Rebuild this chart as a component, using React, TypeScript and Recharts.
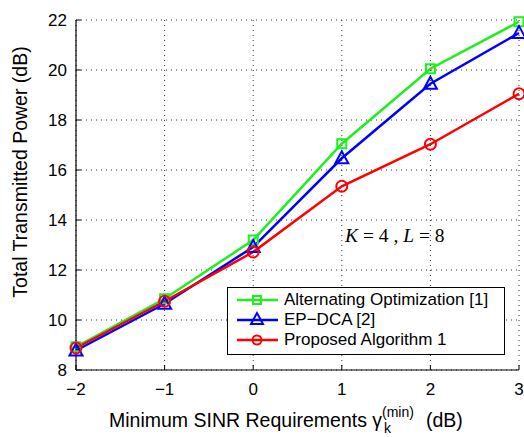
import React from "react"
import { LineChart, Line, XAxis, YAxis, CartesianGrid } from "recharts"

const sinr = [-2, -1, 0, 1, 2, 3]
const altOpt = [8.93, 10.85, 13.2, 17.05, 20.05, 21.93]
const epDca = [8.78, 10.65, 12.92, 16.47, 19.45, 21.48]
const proposed = [8.88, 10.75, 12.72, 15.35, 17.03, 19.05]
const xTicks = [-2, -1, 0, 1, 2, 3]
const yTicks = [8, 10, 12, 14, 16, 18, 20, 22]

const data = sinr.map((x, i) => ({ x, ao: altOpt[i], ep: epDca[i], pa: proposed[i] }))

const GREEN = "#1fee1f"
const BLUE = "#0000ff"
const RED = "#ff0000"
const SANS = "'Liberation Sans', Arial, sans-serif"
const SERIF = "'Liberation Serif', 'Times New Roman', serif"

const fmt = (v: number) => (v < 0 ? `\u2212${Math.abs(v)}` : `${v}`)

function BottomTick(props: any) {
  const { x, y, payload } = props
  return (
    <g>
      <line x1={x} y1={y} x2={x} y2={y - 5} stroke="#000" />
      <text x={x} y={y + 25} textAnchor="middle" fontSize={17} fontFamily={SANS} fill="#000">
        {fmt(payload.value)}
      </text>
    </g>
  )
}

function LeftTick(props: any) {
  const { x, y, payload } = props
  return (
    <g>
      <line x1={x} y1={y} x2={x + 5} y2={y} stroke="#000" />
      <text x={x - 9} y={y + 6} textAnchor="end" fontSize={17} fontFamily={SANS} fill="#000">
        {fmt(payload.value)}
      </text>
    </g>
  )
}

function TopTick(props: any) {
  const { x, y } = props
  return <line x1={x} y1={y} x2={x} y2={y + 5} stroke="#000" />
}

function RightTick(props: any) {
  const { x, y } = props
  return <line x1={x} y1={y} x2={x - 5} y2={y} stroke="#000" />
}

function SquareDot(props: any) {
  const { cx, cy } = props
  return <rect x={cx - 4.5} y={cy - 4.5} width={9} height={9} fill="none" stroke={GREEN} strokeWidth={2} />
}

function TriDot(props: any) {
  const { cx, cy } = props
  const p = `${cx},${cy - 7} ${cx - 6.5},${cy + 5} ${cx + 6.5},${cy + 5}`
  return <polygon points={p} fill="none" stroke={BLUE} strokeWidth={2} />
}

function CircleDot(props: any) {
  const { cx, cy } = props
  return <circle cx={cx} cy={cy} r={5.5} fill="none" stroke={RED} strokeWidth={2} />
}

function LegendRow({ color, marker, label }: { color: string; marker: string; label: string }) {
  return (
    <div style={{ display: "flex", alignItems: "center", height: 20 }}>
      <svg width={46} height={20} style={{ marginRight: 4 }}>
        <line x1={3} y1={10} x2={44} y2={10} stroke={color} strokeWidth={2.5} />
        {marker === "s" && <rect x={19} y={6} width={8} height={8} fill="none" stroke={color} strokeWidth={2} />}
        {marker === "t" && <polygon points="23,3 17,14 29,14" fill="none" stroke={color} strokeWidth={2} />}
        {marker === "o" && <circle cx={23} cy={10} r={4.5} fill="none" stroke={color} strokeWidth={2} />}
      </svg>
      <span>{label}</span>
    </div>
  )
}

export default function App() {
  return (
    <div style={{ position: "absolute", left: 0, top: 0, width: 524, height: 437, background: "#fff" }}>
      <LineChart width={524} height={437} data={data} margin={{ top: 20, right: 5, left: 0, bottom: 0 }}>
        <CartesianGrid stroke="#333" strokeDasharray="1 4" />
        <XAxis
          dataKey="x"
          type="number"
          domain={[-2, 3]}
          ticks={xTicks}
          height={67}
          tickSize={0}
          tickMargin={0}
          tick={<BottomTick />}
          axisLine={{ stroke: "#000", strokeWidth: 1.2 }}
        />
        <XAxis
          xAxisId="top"
          orientation="top"
          dataKey="x"
          type="number"
          domain={[-2, 3]}
          ticks={xTicks}
          height={0}
          tickSize={0}
          tickMargin={0}
          tick={<TopTick />}
          axisLine={{ stroke: "#000", strokeWidth: 1.2 }}
        />
        <YAxis
          type="number"
          domain={[8, 22]}
          ticks={yTicks}
          width={76}
          tickSize={0}
          tickMargin={0}
          tick={<LeftTick />}
          axisLine={{ stroke: "#000", strokeWidth: 1.2 }}
        />
        <YAxis
          yAxisId="right"
          orientation="right"
          type="number"
          domain={[8, 22]}
          ticks={yTicks}
          width={0}
          tickSize={0}
          tickMargin={0}
          tick={<RightTick />}
          axisLine={{ stroke: "#000", strokeWidth: 1.2 }}
        />
        <Line dataKey="ao" stroke={GREEN} strokeWidth={2.5} dot={<SquareDot />} isAnimationActive={false} />
        <Line dataKey="ep" stroke={BLUE} strokeWidth={2.5} dot={<TriDot />} isAnimationActive={false} />
        <Line dataKey="pa" stroke={RED} strokeWidth={2.5} dot={<CircleDot />} isAnimationActive={false} />
      </LineChart>

      {/* axis titles and annotation */}
      <svg width={524} height={437} style={{ position: "absolute", left: 0, top: 0, pointerEvents: "none" }}>
        <text
          x={0}
          y={0}
          transform="translate(27, 172) rotate(-90)"
          textAnchor="middle"
          fontFamily={SANS}
          fontSize={19.5}
          fill="#000"
        >
          Total Transmitted Power (dB)
        </text>
        <text x={109} y={427} fontFamily={SANS} fontSize={19.5} fill="#000">
          Minimum SINR Requirements γ
        </text>
        <text x={382} y={417} fontFamily={SANS} fontSize={14} fill="#000">
          (min)
        </text>
        <text x={384} y={433} fontFamily={SANS} fontSize={14} fill="#000">
          k
        </text>
        <text x={426} y={427} fontFamily={SANS} fontSize={19.5} fill="#000">
          (dB)
        </text>
        <text x={345} y={242} fontFamily={SERIF} fontSize={19.5} fill="#000">
          <tspan fontStyle="italic">K</tspan> = 4 , <tspan fontStyle="italic">L</tspan> = 8
        </text>
      </svg>

      <div
        style={{
          position: "absolute",
          left: 227,
          top: 287,
          width: 270,
          height: 64,
          border: "1px solid #000",
          background: "#fff",
          fontFamily: SANS,
          fontSize: 17,
          paddingTop: 2,
          paddingLeft: 6,
          boxSizing: "content-box",
          whiteSpace: "nowrap",
        }}
      >
        <LegendRow color={GREEN} marker="s" label="Alternating Optimization [1]" />
        <LegendRow color={BLUE} marker="t" label="EP−DCA [2]" />
        <LegendRow color={RED} marker="o" label="Proposed Algorithm 1" />
      </div>
    </div>
  )
}
